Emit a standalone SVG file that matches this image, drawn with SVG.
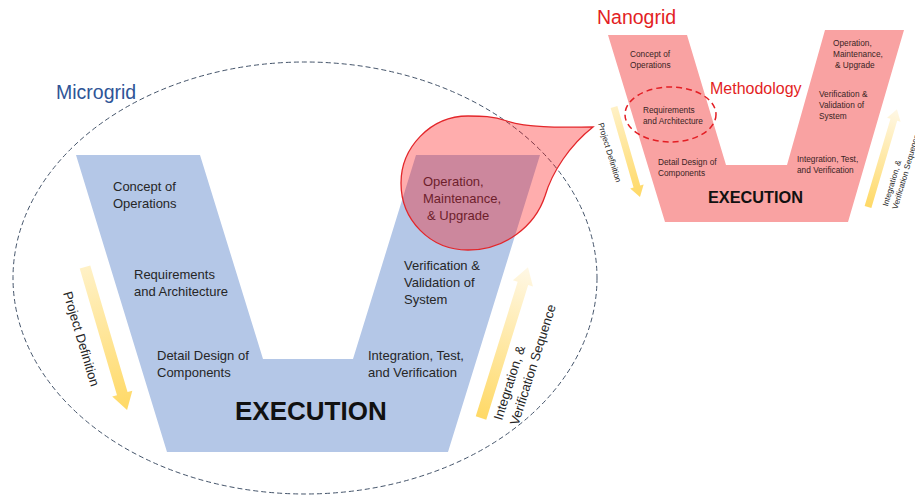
<svg xmlns="http://www.w3.org/2000/svg" width="915" height="496" viewBox="0 0 915 496">
<style>
.t{font-family:"Liberation Sans",Arial,sans-serif;font-size:13px;fill:#262626}
.ts{font-family:"Liberation Sans",Arial,sans-serif;font-size:8.3px;fill:#3a2424}
.ex{font-family:"Liberation Sans",Arial,sans-serif;font-weight:bold;fill:#111}
.title{font-family:"Liberation Sans",Arial,sans-serif;font-size:19.5px}
.arrowtxt{font-family:"Liberation Sans",Arial,sans-serif;fill:#262626}
.callout-t{fill:#6E1E2C}
</style>
<defs>
<linearGradient id="gDown" x1="0" y1="0" x2="1" y2="0">
<stop offset="0" stop-color="#FFF1C6"/>
<stop offset="1" stop-color="#FFD966"/>
</linearGradient>
<linearGradient id="gUp" x1="0" y1="0" x2="1" y2="0">
<stop offset="0" stop-color="#FFD966"/>
<stop offset="1" stop-color="#FFF8E6"/>
</linearGradient>
</defs>

<g id="microgrid-boundary">
<ellipse cx="305" cy="278" rx="292" ry="216" fill="none" stroke="#44546A" stroke-width="1" stroke-dasharray="5 3"/>
<text class="title" x="56" y="99" fill="#2F5597">Microgrid</text>
</g>

<g id="microgrid-v">
<polygon points="76,155 200,155 263,359 353,359 416,155 540,155 448,452 167,452" fill="#B4C7E7"/>
<text class="t" x="113" y="191">Concept of</text>
<text class="t" x="113" y="208">Operations</text>
<text class="t" x="134" y="279">Requirements</text>
<text class="t" x="134" y="296">and Architecture</text>
<text class="t" x="157" y="360">Detail Design of</text>
<text class="t" x="157" y="377">Components</text>
<text class="t" x="368" y="360">Integration, Test,</text>
<text class="t" x="368" y="377">and Verification</text>
<text class="t" x="404" y="270">Verification &amp;</text>
<text class="t" x="404" y="287">Validation of</text>
<text class="t" x="404" y="304">System</text>
<text class="ex" x="235" y="420" font-size="26">EXECUTION</text>
</g>

<g id="callout">
<path d="M593,127 C570,127 532,129 507,121 C492,116 482,116 468,116 C430,116 401,148 401,183 C401,220 430,250 468,250 C505,250 535,226 545,196 C552,172 570,145 593,127 Z" fill="#FF0000" fill-opacity="0.32" stroke="#E3262A" stroke-width="1.3"/>
<text class="t callout-t" x="423" y="186">Operation,</text>
<text class="t callout-t" x="423" y="203">Maintenance,</text>
<text class="t callout-t" x="427" y="220">&amp; Upgrade</text>
</g>

<g id="nanogrid-v">
<polygon points="608,35 687,35 726,165 787,165 825,30 904,30 848,222 665,222" fill="#F9A2A2"/>
<text class="title" x="597" y="24" fill="#E31E24">Nanogrid</text>
<text x="710" y="94" font-family="Liberation Sans, Arial, sans-serif" font-size="16" fill="#E31E24">Methodology</text>
<text class="ts" x="630" y="57">Concept of</text>
<text class="ts" x="630" y="68">Operations</text>
<text class="ts" x="643" y="113">Requirements</text>
<text class="ts" x="643" y="124">and Architecture</text>
<ellipse cx="670.5" cy="114.5" rx="45.5" ry="27.5" fill="none" stroke="#E31E24" stroke-width="1.5" stroke-dasharray="6 4"/>
<text class="ts" x="658" y="165">Detail Design of</text>
<text class="ts" x="658" y="176">Components</text>
<text class="ts" x="833" y="46">Operation,</text>
<text class="ts" x="833" y="57">Maintenance,</text>
<text class="ts" x="835" y="68">&amp; Upgrade</text>
<text class="ts" x="819" y="97">Verification &amp;</text>
<text class="ts" x="819" y="108">Validation of</text>
<text class="ts" x="819" y="119">System</text>
<text class="ts" x="797" y="162">Integration, Test,</text>
<text class="ts" x="797" y="173">and Verification</text>
<text class="ex" x="708" y="203" font-size="16.3">EXECUTION</text>
</g>

<g id="connectors">
<path transform="translate(85,267) rotate(73.6)" d="M0,-5.5 H132 V-10.5 L149,0 L132,10.5 V5.5 H0 Z" fill="url(#gDown)"/>
<path transform="translate(481,418) rotate(-72.7)" d="M0,-5.5 H141 V-10.5 L158,0 L141,10.5 V5.5 H0 Z" fill="url(#gUp)"/>
<path transform="translate(614,107) rotate(73.9)" d="M0,-3.5 H82.7 V-7 L93.7,0 L82.7,7 V3.5 H0 Z" fill="url(#gDown)"/>
<path transform="translate(868,207) rotate(-73.5)" d="M0,-3.5 H91 V-7 L102,0 L91,7 V3.5 H0 Z" fill="url(#gUp)"/>
</g>

<g id="arrow-labels">
<text class="arrowtxt" font-size="13" text-anchor="middle" transform="translate(77,340) rotate(73.5)">Project Definition</text>
<text class="arrowtxt" font-size="13" transform="translate(502,421) rotate(-72.5)"><tspan x="0" y="0">Integration, &amp;</tspan><tspan x="0" y="17">Verification Sequence</tspan></text>
<text class="arrowtxt" font-size="8.2" text-anchor="middle" transform="translate(607,153.3) rotate(73)">Project Definition</text>
<text class="arrowtxt" font-size="8" transform="translate(887.7,206.8) rotate(-73.5)"><tspan x="0" y="0">Integration, &amp;</tspan><tspan x="0" y="10">Verification Sequence</tspan></text>
</g>
</svg>
